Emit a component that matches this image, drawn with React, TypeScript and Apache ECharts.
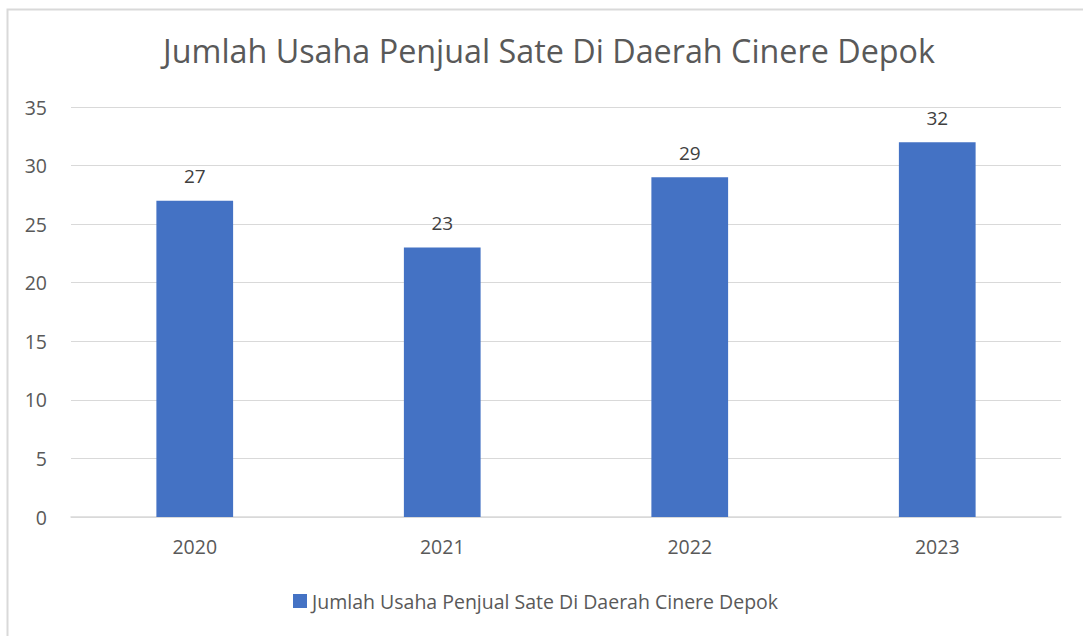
import React, { useEffect, useRef } from "react";
import * as echarts from "echarts";

const title = "Jumlah Usaha Penjual Sate Di Daerah Cinere Depok";
const categories = ["2020", "2021", "2022", "2023"];
const values = [27, 23, 29, 32];
const seriesName = "Jumlah Usaha Penjual Sate Di Daerah Cinere Depok";

const FONT = "'Open Sans', 'Noto Sans', sans-serif";

export default function App() {
  const ref = useRef<HTMLDivElement>(null);
  useEffect(() => {
    const chart = echarts.init(ref.current!, null, { renderer: "svg" });
    chart.setOption({
      animation: false,
      backgroundColor: "#ffffff",
      textStyle: { fontFamily: FONT },
      title: {
        text: title,
        left: 158,
        top: 29,
        textStyle: { fontSize: 32.3, fontWeight: "normal", color: "#595959", fontFamily: FONT },
      },
      graphic: [
        {
          type: "rect",
          shape: { x: 7.5, y: 9.5, width: 1090, height: 640 },
          style: { fill: "none", stroke: "#d9d9d9", lineWidth: 2 },
          silent: true,
        },
      ],
      legend: {
        bottom: 20,
        left: 288,
        itemWidth: 14,
        itemHeight: 14,
        itemGap: 5,
        icon: "rect",
        textStyle: { fontSize: 19.5, color: "#595959", fontFamily: FONT },
        data: [seriesName],
      },
      grid: { left: 71, right: 22, top: 107, bottom: 119, containLabel: false },
      xAxis: {
        type: "category",
        data: categories,
        axisLine: { lineStyle: { color: "#d9d9d9", width: 1.5 } },
        axisTick: { show: false },
        axisLabel: { fontSize: 19.5, color: "#595959", margin: 19, fontFamily: FONT },
      },
      yAxis: {
        type: "value",
        min: 0,
        max: 35,
        interval: 5,
        axisLine: { show: false },
        axisTick: { show: false },
        splitLine: { lineStyle: { color: "#d9d9d9", width: 1 } },
        axisLabel: { fontSize: 19.5, color: "#595959", margin: 24, fontFamily: FONT },
      },
      series: [
        {
          name: seriesName,
          type: "bar",
          data: values,
          barWidth: "31%",
          itemStyle: { color: "#4472C4" },
          label: {
            show: true,
            position: "top",
            distance: 15,
            fontSize: 19,
            color: "#404040",
            fontFamily: FONT,
          },
        },
      ],
    });
    return () => chart.dispose();
  }, []);
  return (
    <div
      ref={ref}
      style={{ position: "fixed", left: 0, top: 0, width: 1083, height: 636 }}
    />
  );
}
